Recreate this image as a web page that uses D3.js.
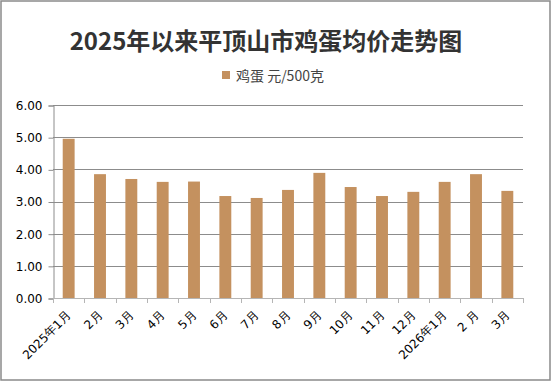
<!DOCTYPE html>
<html>
<head>
<meta charset="utf-8">
<script src="https://cdn.jsdelivr.net/npm/d3@7/dist/d3.min.js"></script>
<style>
html,body{margin:0;padding:0;background:#fff;}
svg{display:block;}
</style>
</head>
<body>
<svg id="chart" width="552" height="382"></svg>
<script>
const categories = ["2025年1月","2月","3月","4月","5月","6月","7月","8月","9月","10月","11月","12月","2026年1月","2 月","3月"];
const values = [4.95,3.85,3.70,3.61,3.62,3.17,3.11,3.36,3.89,3.45,3.17,3.30,3.61,3.85,3.33];
const yTicks = [0,1,2,3,4,5,6];
const title = "2025年以来平顶山市鸡蛋均价走势图";
const legendLabel = "鸡蛋 元/500克";

const svg = d3.select("#chart");
const W = 552, H = 382;
const m = {left:53, right:29, top:105, bottom:84};
const x0 = m.left, x1 = W - m.right, y0 = m.top, y1 = H - m.bottom;

svg.append("rect").attr("x",1).attr("y",1).attr("width",W-3).attr("height",H-3)
  .attr("fill","#fff").attr("stroke","#8a8a8a").attr("stroke-width",1.5);

const idx = d3.range(categories.length);
const x = d3.scaleBand().domain(idx).range([x0,x1]).paddingInner(0.62).paddingOuter(0.31);
const y = d3.scaleLinear().domain([0,6]).range([y1,y0]);

// gridlines
svg.append("g").selectAll("line").data(yTicks.filter(d=>d>0)).join("line")
  .attr("x1",x0).attr("x2",x1).attr("y1",d=>Math.round(y(d))+0.5).attr("y2",d=>Math.round(y(d))+0.5)
  .attr("stroke","#8c8c8c").attr("stroke-width",1);

// y axis
const yAxis = d3.axisLeft(y).tickValues(yTicks).tickFormat(d3.format(".2f")).tickSize(5).tickPadding(6);
const gy = svg.append("g").attr("transform",`translate(${x0+0.5},0.5)`).call(yAxis);
gy.select(".domain").attr("stroke","#8c8c8c");
gy.selectAll(".tick line").attr("stroke","#8c8c8c");
gy.selectAll("text").attr("font-family","DejaVu Sans, Verdana, sans-serif").attr("font-size",12).attr("fill","#000");

// bars
svg.append("g").selectAll("rect").data(values).join("rect")
  .attr("x",(d,i)=>x(i))
  .attr("width",x.bandwidth())
  .attr("y",d=>y(d))
  .attr("height",d=>y(0)-y(d))
  .attr("fill","#c4915f");

// x axis
const step = x.step();
const edges = d3.range(categories.length+1).map(i=>x0 + i*step);
const gx = svg.append("g");
gx.append("line").attr("x1",x0).attr("x2",x1).attr("y1",Math.round(y1)+0.5).attr("y2",Math.round(y1)+0.5)
  .attr("stroke","#b5b5b5");
gx.selectAll("line.tk").data(edges).join("line").attr("class","tk")
  .attr("x1",d=>Math.round(d)+0.5).attr("x2",d=>Math.round(d)+0.5)
  .attr("y1",Math.round(y1)).attr("y2",Math.round(y1)+5)
  .attr("stroke","#b5b5b5");
gx.selectAll("text").data(categories).join("text")
  .attr("transform",(d,i)=>`translate(${x(i)+x.bandwidth()/2+3},${y1+18}) rotate(-45)`)
  .attr("text-anchor","end")
  .attr("font-family","DejaVu Sans, Verdana, sans-serif")
  .attr("font-size",12)
  .attr("fill","#000")
  .text(d=>d);

// title
svg.append("text").attr("x",W/2-10).attr("y",50).attr("text-anchor","middle")
  .attr("font-family","Noto Sans CJK SC, sans-serif").attr("font-weight","bold")
  .attr("font-size",24).attr("fill","#333").text(title);

// legend
svg.append("rect").attr("x",222).attr("y",71).attr("width",8).attr("height",8).attr("fill","#c4915f");
svg.append("text").attr("x",236).attr("y",81)
  .attr("font-family","Noto Sans CJK SC, sans-serif").attr("font-size",14).attr("fill","#444")
  .text(legendLabel);
</script>
</body>
</html>
